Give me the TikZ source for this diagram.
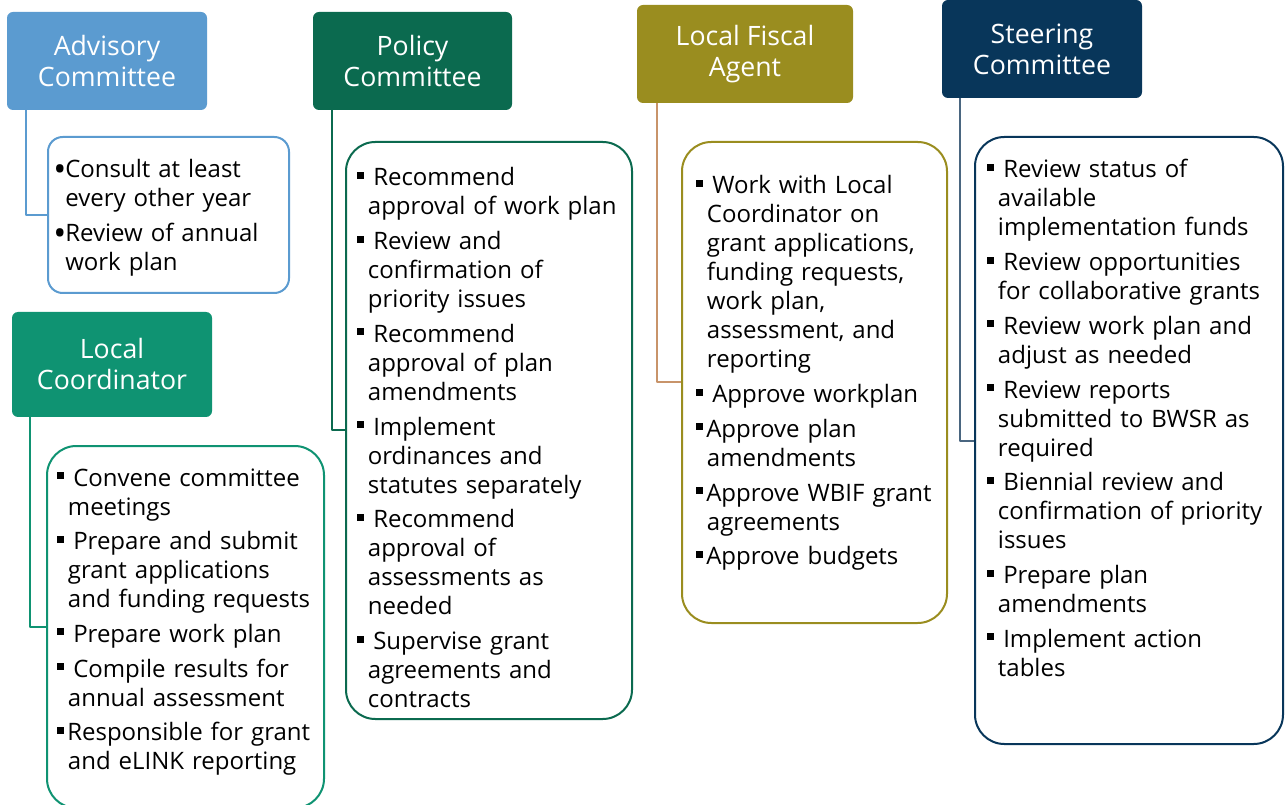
\documentclass[tikz,border=0pt]{standalone}
\usepackage{fontspec}
\setmainfont{Open Sans}
\usetikzlibrary{calc}
\definecolor{advblue}{HTML}{5B9BD0}
\definecolor{polgreen}{HTML}{0B6A4F}
\definecolor{lcgreen}{HTML}{0F9372}
\definecolor{fisolive}{HTML}{9A8D1F}
\definecolor{fistan}{HTML}{C8946A}
\definecolor{stenavy}{HTML}{08365A}
\definecolor{stegrey}{HTML}{4A6680}
\newcommand{\sq}{\makebox[12pt][l]{\rule[5.25pt]{5.25pt}{5.25pt}}}
\newcommand{\sqt}{\makebox[7.5pt][l]{\rule[5.25pt]{5.25pt}{5.25pt}}}
\newcommand{\cnt}{\hspace*{8pt}}
\newcommand{\dotb}{\makebox[9pt][l]{\raisebox{-3pt}{\fontsize{26}{0}\selectfont •}}}
\begin{document}
\begin{tikzpicture}[x=0.75pt,y=-0.75pt,line join=round,
	head/.style={rounded corners=4.5pt,text=white,align=center,inner sep=0pt,
		font=\fontsize{20}{23.25}\selectfont},
	box/.style={fill=white,line width=1.5pt},
	txt/.style={anchor=base west,inner sep=0pt,text width=300pt,align=left,
		font=\fontsize{18}{21.75}\selectfont},
	conn/.style={line width=1.5pt}]
	\useasboundingbox (0,0) rectangle (1285,805);
	% headers
	\node[head,fill=advblue,minimum width=150pt,minimum height=73.5pt] (adv) at (107,61) {Advisory\\Committee};
	\node[head,fill=polgreen,minimum width=149.25pt,minimum height=73.5pt] (pol) at (412.5,61) {Policy\\Committee};
	\node[head,fill=fisolive,minimum width=162pt,minimum height=73.5pt] (fis) at (745,54) {Local Fiscal\\Agent};
	\node[head,fill=stenavy,minimum width=150pt,minimum height=73.5pt] (ste) at (1042,49) {Steering\\Committee};
	\node[head,fill=lcgreen,minimum width=150pt,minimum height=78.75pt] (lc) at (112,364.5) {Local\\Coordinator};
	% task boxes
	\node[box,draw=advblue,minimum width=180.75pt,minimum height=117pt,rounded corners=11pt] (advbox) at (168.5,215) {};
	\node[box,draw=polgreen,minimum width=214.5pt,minimum height=432.75pt,rounded corners=22pt] (polbox) at (489,430.5) {};
	\node[box,draw=fisolive,minimum width=198.75pt,minimum height=360.75pt,rounded corners=22pt] (fisbox) at (814.5,382.5) {};
	\node[box,draw=stenavy,minimum width=231pt,minimum height=455.25pt,rounded corners=22pt] (stebox) at (1129,440.5) {};
	\node[box,draw=lcgreen,minimum width=207.75pt,minimum height=271.5pt,rounded corners=22pt] (lcbox) at (185.5,627) {};
	% connectors
	\foreach \h/\b/\c/\d in {adv/advbox/advblue/19,pol/polbox/polgreen/19,fis/fisbox/fistan/20,ste/stebox/stegrey/18,lc/lcbox/lcgreen/18}
	\draw[conn,draw=\c] ($(\h.south west)+(\d,0)$) |- (\b.west);
	% task lists
	\node[txt] (advtxt) at ($(advbox.north west)+(6,42)$) {\dotb Consult at least\\\hspace*{9pt}every other year\\[4.5pt]
		\dotb Review of annual\\\hspace*{9pt}work plan};
	\node[txt] (poltxt) at ($(polbox.north west)+(12,45)$) {\sq Recommend\\\cnt approval of work plan\\[4.3pt]
		\sq Review and\\\cnt confirmation of\\\cnt priority issues\\[4.3pt]
		\sq Recommend\\\cnt approval of plan\\\cnt amendments\\[4.3pt]
		\sq Implement\\\cnt ordinances and\\\cnt statutes separately\\[4.3pt]
		\sq Recommend\\\cnt approval of\\\cnt assessments as\\\cnt needed\\[4.3pt]
		\sq Supervise grant\\\cnt agreements and\\\cnt contracts};
	\node[txt] (fistxt) at ($(fisbox.north west)+(15,53)$) {\sq Work with Local\\\cnt Coordinator on\\\cnt grant applications,\\\cnt funding requests,\\\cnt work plan,\\\cnt assessment, and\\\cnt reporting\\[4.3pt]
		\sq Approve workplan\\[4.3pt]
		\sqt Approve plan\\\cnt amendments\\[4.3pt]
		\sqt Approve WBIF grant\\\cnt agreements\\[4.3pt]
		\sqt Approve budgets};
	\node[txt] (stetxt) at ($(stebox.north west)+(13,42)$) {\sq Review status of\\\cnt available\\\cnt implementation funds\\[4.3pt]
		\sq Review opportunities\\\cnt for collaborative grants\\[4.3pt]
		\sq Review work plan and\\\cnt adjust as needed\\[4.3pt]
		\sq Review reports\\\cnt submitted to BWSR as\\\cnt required\\[4.3pt]
		\sq Biennial review and\\\cnt confirmation of priority\\\cnt issues\\[4.3pt]
		\sq Prepare plan\\\cnt amendments\\[4.3pt]
		\sq Implement action\\\cnt tables};
	\node[txt] (lctxt) at ($(lcbox.north west)+(11,41)$) {\sq Convene committee\\\cnt meetings\\[4.3pt]
		\sq Prepare and submit\\\cnt grant applications\\\cnt and funding requests\\[4.3pt]
		\sq Prepare work plan\\[4.3pt]
		\sq Compile results for\\\cnt annual assessment\\[4.3pt]
		\sqt Responsible for grant\\\cnt and eLINK reporting};
\end{tikzpicture}
\end{document}
